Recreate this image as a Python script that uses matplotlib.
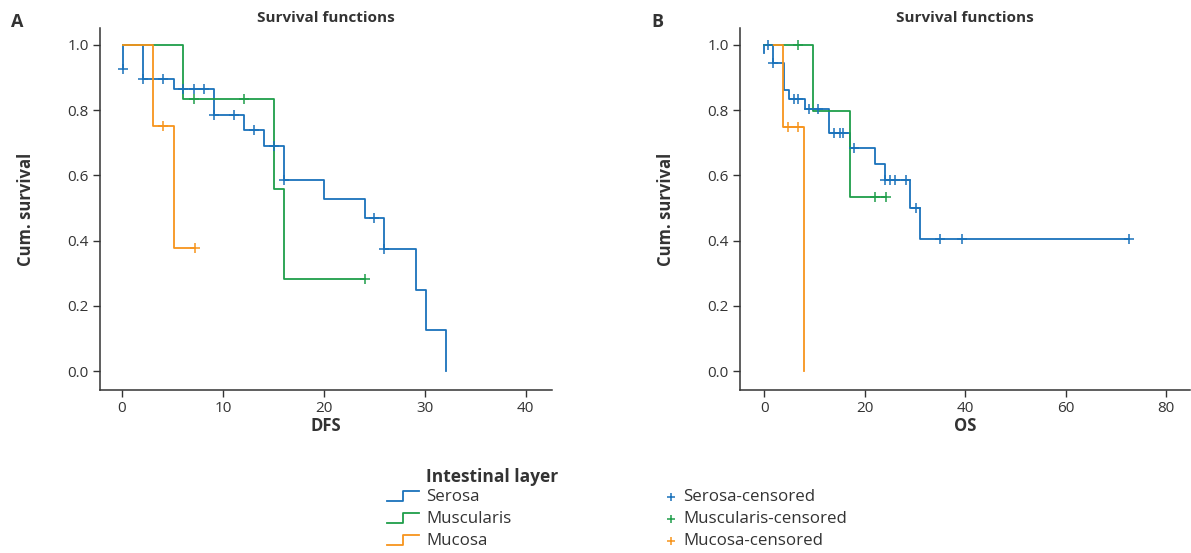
import matplotlib
matplotlib.use('Agg')
import matplotlib.pyplot as plt
from matplotlib.lines import Line2D

plt.rcParams['font.family'] = ['Open Sans', 'DejaVu Sans']

# Panel A - disease free survival (step vertices: time, cumulative survival)
dfs_serosa_t = [0.13, 0.13, 2.05, 5.15, 9.14, 12.08, 14.1, 16.07, 20.03, 24.03, 26.0, 29.08, 30.1, 32.05]
dfs_serosa_s = [0.926, 1.0, 0.896, 0.866, 0.785, 0.740, 0.691, 0.585, 0.527, 0.470, 0.375, 0.249, 0.127, 0.0]
dfs_muscularis_t = [0.13, 6.07, 15.05, 16.07, 24.03]
dfs_muscularis_s = [1.0, 0.834, 0.559, 0.281, 0.281]
dfs_mucosa_t = [0.13, 3.04, 5.15, 7.2]
dfs_mucosa_s = [1.0, 0.75, 0.377, 0.377]

dfs_serosa_cens_t = [0.13, 2.05, 4.09, 6.07, 7.13, 8.15, 9.14, 11.1, 13.1, 15.05, 16.07, 24.95, 26.0]
dfs_serosa_cens_s = [0.926, 0.896, 0.896, 0.866, 0.866, 0.866, 0.785, 0.785, 0.740, 0.691, 0.585, 0.470, 0.375]
dfs_muscularis_cens_t = [7.13, 12.08, 24.03]
dfs_muscularis_cens_s = [0.834, 0.834, 0.281]
dfs_mucosa_cens_t = [4.09, 7.2]
dfs_mucosa_cens_s = [0.75, 0.377]

# Panel B - overall survival
os_serosa_t = [0.0, 0.0, 1.85, 4.04, 4.97, 8.15, 12.9, 17.1, 22.1, 24.05, 29.0, 31.0, 72.6]
os_serosa_s = [0.975, 1.0, 0.946, 0.862, 0.834, 0.803, 0.731, 0.685, 0.636, 0.586, 0.501, 0.404, 0.404]
os_muscularis_t = [0.0, 9.8, 17.1, 24.2]
os_muscularis_s = [1.0, 0.798, 0.533, 0.533]
os_mucosa_t = [1.85, 3.84, 8.0]
os_mucosa_s = [1.0, 0.749, 0.0]

os_serosa_cens_t = [0.85, 1.85, 6.0, 6.8, 8.95, 10.8, 14.0, 15.0, 15.6, 17.9, 24.05, 25.0, 26.0, 28.2, 30.2, 35.0, 39.3, 72.6]
os_serosa_cens_s = [1.0, 0.946, 0.834, 0.834, 0.803, 0.803, 0.731, 0.731, 0.731, 0.685, 0.586, 0.586, 0.586, 0.586, 0.501, 0.404, 0.404, 0.404]
os_muscularis_cens_t = [6.8, 22.1, 24.2]
os_muscularis_cens_s = [1.0, 0.533, 0.533]
os_mucosa_cens_t = [4.83, 6.8]
os_mucosa_cens_s = [0.749, 0.749]

groups = ['Serosa', 'Muscularis', 'Mucosa']
colors = ['#1a72bb', '#1f9e4a', '#f7941d']
ink = '#333333'


def plot_panel(ax, curves, censors, xticks, xlim, xlabel, letter):

    for (t, s), color in zip(curves, colors):
        ax.step(t, s, where='post', color=color, linewidth=1.3)

    for (t, s), color in zip(censors, colors):
        ax.plot(t, s, linestyle='none', marker='+', markersize=7,
                markeredgewidth=1.1, color=color)

    ax.set_xlim(xlim)
    ax.set_ylim(-0.058, 1.052)
    ax.set_xticks(xticks)
    ax.set_yticks([0.0, 0.2, 0.4, 0.6, 0.8, 1.0])
    ax.set_yticklabels(['%.1f' % v for v in [0.0, 0.2, 0.4, 0.6, 0.8, 1.0]])

    for side in ['top', 'right']:
        ax.spines[side].set_visible(False)
    for side in ['left', 'bottom']:
        ax.spines[side].set_color(ink)
        ax.spines[side].set_linewidth(1.1)

    ax.tick_params(direction='out', length=5, width=1, colors=ink,
                   labelsize=11, labelcolor=ink, pad=3)

    ax.set_xlabel(xlabel, fontsize=12, fontweight='bold', color=ink)
    ax.xaxis.set_label_coords(0.5, -0.075)
    ax.xaxis.label.set_verticalalignment('top')
    ax.set_ylabel('Cum. survival', fontsize=12, fontweight='bold', color=ink)
    ax.yaxis.set_label_coords(-0.144, 0.5)

    ax.set_title('Survival functions', fontsize=11, fontweight='bold',
                 color=ink, pad=4)
    ax.text(-0.184, 1.017, letter, transform=ax.transAxes, fontsize=13,
            fontweight='bold', color=ink, ha='center', va='center')


fig = plt.figure(figsize=(11.91, 5.53), dpi=100)

ax_a = fig.add_axes([0.0840, 0.2948, 0.3795, 0.6546])
ax_b = fig.add_axes([0.6213, 0.2948, 0.3778, 0.6546])

plot_panel(ax_a,
           [(dfs_serosa_t, dfs_serosa_s), (dfs_muscularis_t, dfs_muscularis_s), (dfs_mucosa_t, dfs_mucosa_s)],
           [(dfs_serosa_cens_t, dfs_serosa_cens_s), (dfs_muscularis_cens_t, dfs_muscularis_cens_s),
            (dfs_mucosa_cens_t, dfs_mucosa_cens_s)],
           [0, 10, 20, 30, 40], (-2.18, 42.6), 'DFS', 'A')

plot_panel(ax_b,
           [(os_serosa_t, os_serosa_s), (os_muscularis_t, os_muscularis_s), (os_mucosa_t, os_mucosa_s)],
           [(os_serosa_cens_t, os_serosa_cens_s), (os_muscularis_cens_t, os_muscularis_cens_s),
            (os_mucosa_cens_t, os_mucosa_cens_s)],
           [0, 20, 40, 60, 80], (-4.8, 84.7), 'OS', 'B')

# legend drawn in figure pixel space
leg = fig.add_axes([0, 0, 1, 1], facecolor='none')
leg.set_xlim(0, 1191)
leg.set_ylim(553, 0)
leg.axis('off')

leg.text(426, 477, 'Intestinal layer', fontsize=12.5, fontweight='bold',
         color=ink, va='center', ha='left')

row_y = [497, 519, 541]
for name, color, y in zip(groups, colors, row_y):
    leg.add_line(Line2D([387, 403, 403, 419], [y + 4, y + 4, y - 6, y - 6],
                        color=color, linewidth=1.3))
    leg.text(426, y, name, fontsize=12.2, color=ink, va='center', ha='left')
    leg.plot([671], [y], linestyle='none', marker='+', markersize=6,
             markeredgewidth=1.1, color=color)
    leg.text(683, y, name + '-censored', fontsize=12.2, color=ink,
             va='center', ha='left')

plt.savefig('out.png', dpi=100)
